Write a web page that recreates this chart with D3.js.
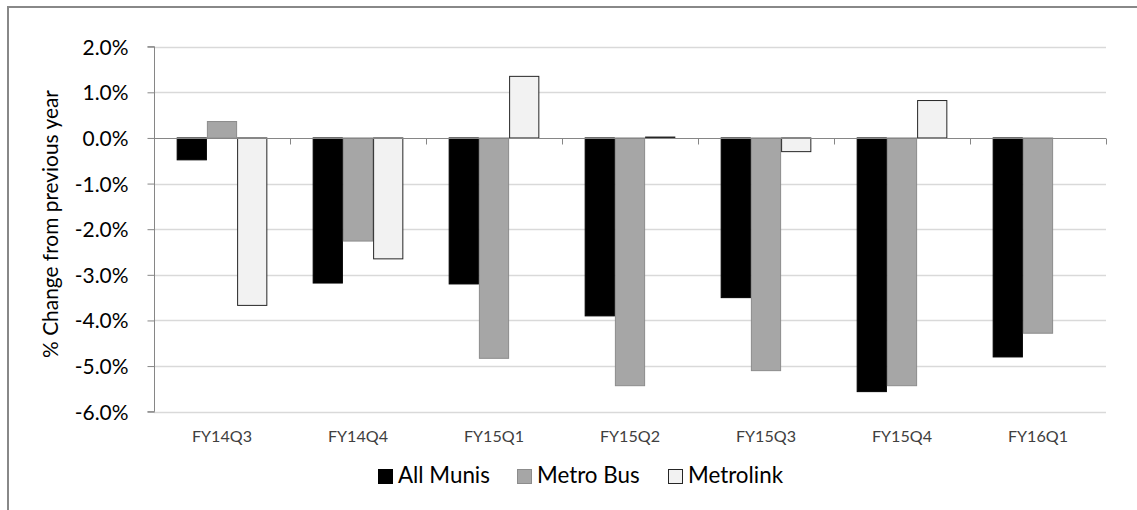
<!DOCTYPE html>
<html><head><meta charset="utf-8">
<script src="https://cdn.jsdelivr.net/npm/d3@7"></script>
<style>body{margin:0;background:#fff;} svg{display:block;}</style>
</head><body>
<svg id="c" width="1137" height="510"></svg>
<script>
const categories = ["FY14Q3","FY14Q4","FY15Q1","FY15Q2","FY15Q3","FY15Q4","FY16Q1"];
const seriesNames = ["All Munis","Metro Bus","Metrolink"];
const allMunis = [-0.48,-3.18,-3.20,-3.90,-3.50,-5.56,-4.80];
const metroBus = [0.36,-2.26,-4.83,-5.43,-5.10,-5.43,-4.28];
const metrolink = [-3.67,-2.65,1.35,0.02,-0.30,0.82,null];
const yTicks = [2,1,0,-1,-2,-3,-4,-5,-6];

const fills = ["#000000","#a6a6a6","#f2f2f2"];
const strokes = ["#000000","#8c8c8c","#262626"];
const font = "Lato, 'Open Sans', sans-serif";

// fit a text selection's font size so a sample string reaches a target width
function fit(sel, target) {
  let fs = 16;
  sel.attr("font-size", fs);
  const w = sel.node().getComputedTextLength();
  fs = fs * target / w;
  sel.attr("font-size", fs);
  return fs;
}

const svg = d3.select("#c");
// frame
svg.append("line").attr("x1",8).attr("x2",1137).attr("y1",7).attr("y2",7).attr("stroke","#888").attr("stroke-width",2);
svg.append("line").attr("x1",8).attr("x2",8).attr("y1",6).attr("y2",510).attr("stroke","#888").attr("stroke-width",2);

const pL=154, pR=1106, pT=46.7, pB=411.7;
const x = d3.scaleBand().domain(categories).range([pL,pR]).paddingInner(0).paddingOuter(0);
const y = d3.scaleLinear().domain([-6,2]).range([pB,pT]);
const gap = 1.5;
const bw = x.bandwidth()/(3+gap);
const xs = d3.scaleBand().domain(seriesNames).range([bw*gap/2, bw*gap/2+3*bw]);

// gridlines
svg.append("g").selectAll("line").data(yTicks.filter(d=>d!==0)).join("line")
  .attr("x1",pL).attr("x2",pR).attr("y1",d=>Math.round(y(d))+0.5).attr("y2",d=>Math.round(y(d))+0.5)
  .attr("stroke","#d9d9d9").attr("stroke-width",1.3);

// y axis
const yAxis = svg.append("g").attr("transform",`translate(${pL+0.5},0)`)
  .call(d3.axisLeft(y).tickValues(yTicks).tickSize(7).tickPadding(19).tickFormat(d=>d3.format(".1f")(d).replace("\u2212","-")+"%"));
yAxis.select(".domain").attr("stroke","#868686").attr("d",`M-7,${y(2)}H0V${y(-6)}H-7`);
yAxis.selectAll(".tick line").attr("stroke","#868686");
const yt = yAxis.selectAll(".tick text").attr("font-family",font).attr("fill","#000").attr("dy","0.36em");
const yfs = fit(yAxis.selectAll(".tick text").filter(d=>d===2), 46);
yt.attr("font-size", yfs);

// bars
const series = [allMunis, metroBus, metrolink];
const data = [];
series.forEach((vals,si)=>vals.forEach((v,ci)=>{ if(v!==null) data.push({s:si,c:categories[ci],v}); }));
svg.append("g").selectAll("rect").data(data).join("rect")
  .attr("x",d=>x(d.c)+xs(seriesNames[d.s])+0.5)
  .attr("width",bw-1)
  .attr("y",d=>Math.min(y(d.v),y(0)))
  .attr("height",d=>Math.abs(y(d.v)-y(0)))
  .attr("fill",d=>fills[d.s]).attr("stroke",d=>strokes[d.s]).attr("stroke-width",1);

// category axis at zero
const xAxis = svg.append("g").attr("transform",`translate(0,${Math.round(y(0))+0.5})`)
  .call(d3.axisBottom(x).tickSize(6).tickFormat(""));
xAxis.select(".domain").attr("stroke","#868686").attr("d",`M${pL},0H${pR}`);
xAxis.selectAll(".tick").remove();
const bounds = categories.map(c=>x(c)).concat([pR]);
xAxis.selectAll("line.t").data(bounds).join("line").attr("class","t")
  .attr("x1",d=>Math.round(d)+0.5).attr("x2",d=>Math.round(d)+0.5).attr("y1",0).attr("y2",6).attr("stroke","#868686");

// category labels
const cl = svg.append("g").selectAll("text").data(categories).join("text")
  .attr("x",d=>x(d)+x.bandwidth()/2).attr("y",441.5).attr("text-anchor","middle")
  .attr("font-family",font).attr("fill","#404040").text(d=>d);
const cfs = fit(cl.filter((d,i)=>i===0), 60);
cl.attr("font-size", cfs);

// y title
const yTitle = svg.append("text").attr("transform",`translate(58,224) rotate(-90)`).attr("text-anchor","middle")
  .attr("font-family",font).attr("fill","#000").text("% Change from previous year");
fit(yTitle, 268);

// legend
const legX = [378,517,668];
const leg = svg.append("g").selectAll("g").data(seriesNames).join("g")
  .attr("transform",(d,i)=>`translate(${legX[i]},0)`);
leg.append("rect").attr("x",0.5).attr("y",469.5).attr("width",14).attr("height",14)
  .attr("fill",(d,i)=>fills[i]).attr("stroke",(d,i)=>strokes[i]);
const lt = leg.append("text").attr("x",20).attr("y",483).attr("font-family",font).attr("fill","#000").text(d=>d);
const lfs = fit(lt.filter((d,i)=>i===0), 92);
lt.attr("font-size", lfs);
</script>
</body></html>
